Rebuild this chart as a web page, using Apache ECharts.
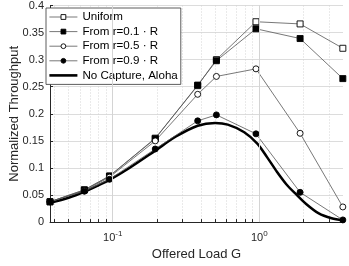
<!DOCTYPE html>
<html>
<head>
<meta charset="utf-8">
<script src="https://cdn.jsdelivr.net/npm/echarts@6/dist/echarts.min.js"></script>
<style>html,body{margin:0;padding:0;background:#fff;}#c{width:349px;height:266px;}</style>
</head>
<body>
<div id="c"></div>
<script>
var loadG = [0.0373, 0.064, 0.095, 0.195, 0.38, 0.51, 0.95, 1.9, 3.72];
var uniform = [0.0375, 0.0595, 0.085, 0.155, 0.252, 0.300, 0.370, 0.366, 0.321];
var fromR01 = [0.0375, 0.0595, 0.085, 0.154, 0.253, 0.298, 0.357, 0.339, 0.265];
var fromR05 = [0.0375, 0.058, 0.083, 0.150, 0.236, 0.269, 0.283, 0.164, 0.028];
var fromR09 = [0.0375, 0.057, 0.079, 0.135, 0.187, 0.198, 0.163, 0.055, 0.004];
var alohaG = [0.0373, 0.05, 0.064, 0.08, 0.095, 0.13, 0.195, 0.27, 0.38, 0.5, 0.61, 0.79, 0.97, 1.13, 1.32, 1.53, 1.79, 2.08, 2.55, 3.12, 3.72];
var alohaS = [0.0355, 0.045, 0.056, 0.068, 0.078, 0.100, 0.132, 0.158, 0.178, 0.183, 0.180, 0.166, 0.145, 0.120, 0.093, 0.070, 0.051, 0.034, 0.016, 0.007, 0.003];
var seriesNames = ['Uniform', 'From r=0.1 \u00b7 R', 'From r=0.5 \u00b7 R', 'From r=0.9 \u00b7 R', 'No Capture, Aloha'];
var xTickValues = [0.04, 0.05, 0.06, 0.07, 0.08, 0.09, 0.1, 0.2, 0.3, 0.4, 0.5, 0.6, 0.7, 0.8, 0.9, 1, 2, 3];
var xLabelValues = [0.1, 1];

function pairs(xs, ys) { return xs.map(function (x, i) { return [x, ys[i]]; }); }
var FONT = 'Liberation Sans';

function markerSeries(name, ys, symbol, fill) {
  return {
    name: name, type: 'line', data: pairs(loadG, ys), z: 3,
    symbol: symbol, symbolSize: 6, showAllSymbol: true,
    lineStyle: { color: '#555', width: 0.8 },
    itemStyle: { color: fill, borderColor: '#000', borderWidth: 0.9 },
    emphasis: { disabled: true }
  };
}

var legendData = seriesNames.map(function (n, i) {
  if (i === 4) {
    return { name: n, icon: 'path://M0,0h28v2.6h-28z', itemStyle: { color: '#000', borderWidth: 0 } };
  }
  return { name: n, lineStyle: { width: 0.8, color: '#555' }, itemStyle: { borderWidth: 0.9, borderColor: '#000' } };
});

var chart = echarts.init(document.getElementById('c'), null, { renderer: 'canvas' });
chart.setOption({
  animation: false,
  backgroundColor: '#fff',
  grid: { left: 43, right: 6, top: 5, bottom: 37, containLabel: false },
  legend: {
    left: 46, top: 8, orient: 'vertical',
    data: legendData,
    itemWidth: 28, itemHeight: 6, itemGap: 2.6,
    backgroundColor: '#fff', borderColor: '#333', borderWidth: 0.8, borderRadius: 0,
    padding: [3, 3, 3, 3],
    textStyle: { fontFamily: FONT, fontSize: 11.6, color: '#000' }
  },
  xAxis: {
    type: 'log', logBase: 10, min: 0.0373, max: 3.73,
    name: 'Offered Load G', nameLocation: 'middle', nameGap: 22,
    nameTextStyle: { fontFamily: FONT, fontSize: 13, color: '#262626' },
    axisLine: { show: true, lineStyle: { color: '#262626', width: 1 } },
    axisTick: { show: true, inside: true, length: 3, customValues: xTickValues, lineStyle: { color: '#262626' } },
    axisLabel: {
      customValues: xLabelValues, margin: 8,
      fontFamily: FONT, color: '#262626',
      formatter: function (v) {
        if (Math.abs(v - 0.1) < 1e-9) return '{b|10}{s|-1}';
        if (Math.abs(v - 1) < 1e-9) return '{b|10}{s|0}';
        return '';
      },
      rich: {
        b: { fontFamily: FONT, fontSize: 11, color: '#262626' },
        s: { fontFamily: FONT, fontSize: 8, color: '#262626', padding: [0, 0, 7, 0] }
      }
    },
    splitLine: { show: true, lineStyle: { color: '#d4d4d4', width: 1, type: [1, 2] } }
  },
  yAxis: {
    type: 'value', min: 0, max: 0.4, interval: 0.05,
    name: 'Normalized Throughput', nameLocation: 'middle', nameGap: 29,
    nameMoveOverlap: false,
    nameTextStyle: { fontFamily: FONT, fontSize: 13, color: '#262626' },
    axisLine: { show: true, lineStyle: { color: '#262626', width: 1 } },
    axisTick: { show: true, inside: true, length: 3, lineStyle: { color: '#262626' } },
    axisLabel: { fontFamily: FONT, fontSize: 11, color: '#262626', margin: 6,
      overflow: 'none', hideOverlap: false,
      formatter: function (v) { return String(+v.toFixed(2)); } },
    splitLine: { show: true, lineStyle: { color: '#dcdcdc', width: 1 } }
  },
  series: [
    {
      name: 'majorGrid', type: 'line', data: [], z: 1, silent: true,
      markLine: {
        silent: true, symbol: ['none', 'none'], label: { show: false },
        lineStyle: { color: '#d4d4d4', width: 1, type: 'solid' },
        emphasis: { disabled: true },
        data: xLabelValues.map(function (v) { return { xAxis: v }; })
      }
    },
    markerSeries(seriesNames[0], uniform, 'rect', '#fff'),
    markerSeries(seriesNames[1], fromR01, 'rect', '#000'),
    markerSeries(seriesNames[2], fromR05, 'circle', '#fff'),
    markerSeries(seriesNames[3], fromR09, 'circle', '#000'),
    {
      name: seriesNames[4], type: 'line', data: pairs(alohaG, alohaS), z: 2,
      symbol: 'none', smooth: 0.3,
      lineStyle: { color: '#000', width: 2.5 },
      itemStyle: { color: '#000' },
      emphasis: { disabled: true }
    }
  ]
});
</script>
</body>
</html>
